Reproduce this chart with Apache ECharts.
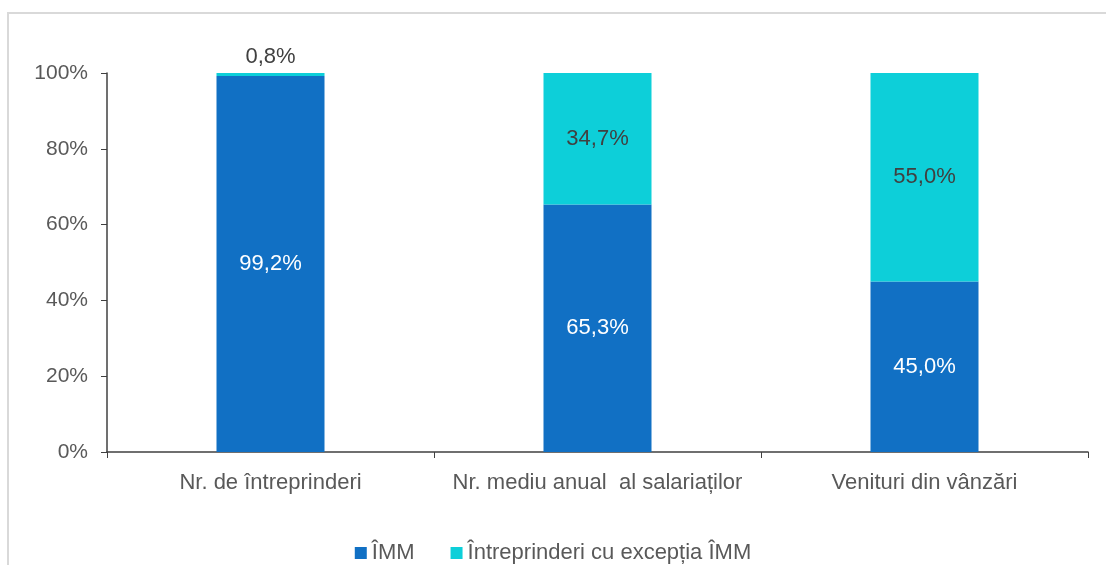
<!DOCTYPE html>
<html><head><meta charset="utf-8">
<script src="https://cdn.jsdelivr.net/npm/echarts@6/dist/echarts.min.js"></script>
<style>html,body{margin:0;padding:0;background:#fff}#c{width:1106px;height:565px}</style>
</head><body><div id="c"></div>
<script>
const categories = ['Nr. de întreprinderi', 'Nr. mediu anual  al salariaților', 'Venituri din vânzări'];
const seriesNames = ['ÎMM', 'Întreprinderi cu excepția ÎMM'];
const immValues = [99.2, 65.3, 45.0];
const otherValues = [0.8, 34.7, 55.0];
const yTicks = [0, 20, 40, 60, 80, 100];

const fmt = v => v.toFixed(1).replace('.', ',') + '%';
const font = 'Liberation Sans, Arial, sans-serif';
const chart = echarts.init(document.getElementById('c'));
chart.setOption({
  animation: false,
  textStyle: { fontFamily: font },
  graphic: [{ type: 'rect', shape: { x: 8, y: 13, width: 1120, height: 600 },
    style: { fill: 'none', stroke: '#d9d9d9', lineWidth: 2 }, silent: true }],
  grid: { left: 107, right: 18, top: 73, bottom: 113 },
  legend: {
    top: 537, left: 'center', itemWidth: 12, itemHeight: 12, itemGap: 36,
    icon: 'rect', textStyle: { fontSize: 22, color: '#595959', fontFamily: font },
    data: seriesNames
  },
  xAxis: {
    type: 'category', data: categories,
    axisLine: { lineStyle: { color: '#404040', width: 1.5 } },
    axisTick: { show: true, interval: 0, length: 6, lineStyle: { color: '#404040' } },
    axisLabel: { interval: 0, hideOverlap: false, fontSize: 22, color: '#595959', margin: 20, fontFamily: font }
  },
  yAxis: {
    type: 'value', min: 0, max: 100, interval: 20,
    axisLine: { show: true, lineStyle: { color: '#404040', width: 1.5 } },
    axisTick: { show: true, length: 6, lineStyle: { color: '#404040' } },
    splitLine: { show: false },
    axisLabel: { fontSize: 21, color: '#595959', margin: 19, fontFamily: font,
      formatter: v => yTicks.includes(v) ? v + '%' : '' }
  },
  series: [
    { name: seriesNames[0], type: 'bar', stack: 's', barWidth: 108,
      itemStyle: { color: '#1170C4' },
      label: { show: true, position: 'inside', color: '#ffffff', fontSize: 22, fontFamily: font,
        formatter: p => fmt(p.value) },
      data: immValues },
    { name: seriesNames[1], type: 'bar', stack: 's', barWidth: 108,
      itemStyle: { color: '#0DCFD9' },
      label: { show: true, position: 'inside', color: '#404040', fontSize: 22, fontFamily: font,
        formatter: p => fmt(p.value) },
      data: otherValues.map((v, i) => i === 0
        ? { value: v, label: { position: 'top', distance: 5 } }
        : v) }
  ]
});
</script></body></html>
